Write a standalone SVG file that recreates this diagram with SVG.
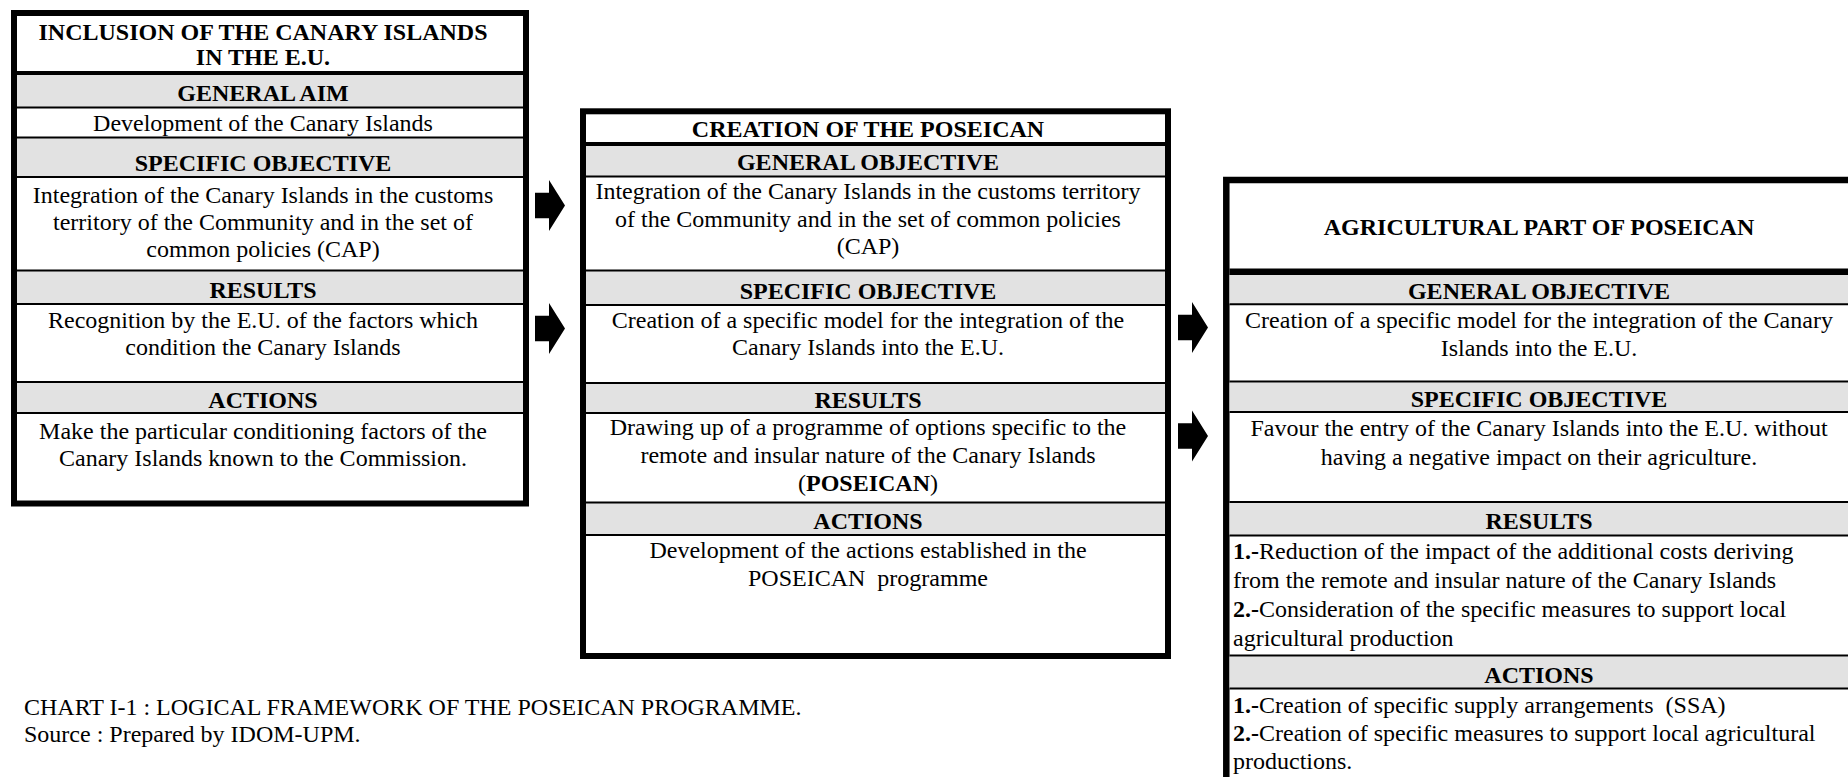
<svg xmlns="http://www.w3.org/2000/svg" width="1848" height="777" viewBox="0 0 1848 777">
<defs>
<style>
.box{fill:#fff;stroke:#000;stroke-width:6}
.band{fill:#e2e2e2}
.sep{stroke:#000;stroke-width:2}
.tl{stroke:#000;stroke-width:4}
text{font-family:"Liberation Serif","Times New Roman",serif;font-size:24px;fill:#000}
.h{font-weight:bold;text-anchor:middle}
.t{text-anchor:middle}
.b{font-weight:bold}
.pre{white-space:pre}
.arrow{fill:#000}
</style>
<path id="arr" d="M0,-12.8 H14 V-25.5 L30,0 L14,25.5 V12.8 H0 Z"/>
</defs>
<rect width="1848" height="777" fill="#fff"/>

<g id="node-inclusion">
<rect class="box" x="14" y="13" width="512" height="490.5"/>
<rect class="band" x="17" y="75" width="506" height="32"/>
<rect class="band" x="17" y="138" width="506" height="39"/>
<rect class="band" x="17" y="271" width="506" height="33"/>
<rect class="band" x="17" y="383" width="506" height="30"/>
<line class="tl" x1="17" y1="73" x2="523" y2="73"/>
<line class="sep" x1="17" y1="107.5" x2="523" y2="107.5"/>
<line class="sep" x1="17" y1="137.5" x2="523" y2="137.5"/>
<line class="sep" x1="17" y1="177" x2="523" y2="177"/>
<line class="sep" x1="17" y1="270.5" x2="523" y2="270.5"/>
<line class="sep" x1="17" y1="304" x2="523" y2="304"/>
<line class="sep" x1="17" y1="382" x2="523" y2="382"/>
<line class="sep" x1="17" y1="413" x2="523" y2="413"/>
<text class="h" x="263" y="40">INCLUSION OF THE CANARY ISLANDS</text>
<text class="h" x="263" y="64.5">IN THE E.U.</text>
<text class="h" x="263" y="100.5">GENERAL AIM</text>
<text class="t" x="263" y="131">Development of the Canary Islands</text>
<text class="h" x="263" y="171">SPECIFIC OBJECTIVE</text>
<text class="t" x="263" y="203">Integration of the Canary Islands in the customs</text>
<text class="t" x="263" y="230">territory of the Community and in the set of</text>
<text class="t" x="263" y="257">common policies (CAP)</text>
<text class="h" x="263" y="298">RESULTS</text>
<text class="t" x="263" y="327.5">Recognition by the E.U. of the factors which</text>
<text class="t" x="263" y="354.5">condition the Canary Islands</text>
<text class="h" x="263" y="407.5">ACTIONS</text>
<text class="t" x="263" y="439">Make the particular conditioning factors of the</text>
<text class="t" x="263" y="466">Canary Islands known to the Commission.</text>
</g>

<g id="node-creation">
<rect class="box" x="583" y="111.3" width="585" height="544.7"/>
<rect class="band" x="586" y="146" width="579" height="30"/>
<rect class="band" x="586" y="271" width="579" height="34"/>
<rect class="band" x="586" y="384" width="579" height="29"/>
<rect class="band" x="586" y="503" width="579" height="32"/>
<line class="tl" x1="586" y1="144" x2="1165" y2="144"/>
<line class="sep" x1="586" y1="176.5" x2="1165" y2="176.5"/>
<line class="sep" x1="586" y1="270.5" x2="1165" y2="270.5"/>
<line class="sep" x1="586" y1="305" x2="1165" y2="305"/>
<line class="sep" x1="586" y1="383" x2="1165" y2="383"/>
<line class="sep" x1="586" y1="413" x2="1165" y2="413"/>
<line class="sep" x1="586" y1="502.5" x2="1165" y2="502.5"/>
<line class="sep" x1="586" y1="535" x2="1165" y2="535"/>
<text class="h" x="868" y="137">CREATION OF THE POSEICAN</text>
<text class="h" x="868" y="170">GENERAL OBJECTIVE</text>
<text class="t" x="868" y="199">Integration of the Canary Islands in the customs territory</text>
<text class="t" x="868" y="226.5">of the Community and in the set of common policies</text>
<text class="t" x="868" y="254">(CAP)</text>
<text class="h" x="868" y="298.5">SPECIFIC OBJECTIVE</text>
<text class="t" x="868" y="327.5">Creation of a specific model for the integration of the</text>
<text class="t" x="868" y="354.5">Canary Islands into the E.U.</text>
<text class="h" x="868" y="407.5">RESULTS</text>
<text class="t" x="868" y="435">Drawing up of a programme of options specific to the</text>
<text class="t" x="868" y="462.5">remote and insular nature of the Canary Islands</text>
<text class="t" x="868" y="490.5">(<tspan class="b">POSEICAN</tspan>)</text>
<text class="h" x="868" y="529">ACTIONS</text>
<text class="t" x="868" y="558">Development of the actions established in the</text>
<text class="t pre" x="868" y="585.5">POSEICAN  programme</text>
</g>

<g id="node-agricultural">
<rect class="box" x="1226.3" y="180" width="700" height="700" style="stroke-width:6.5"/>
<rect class="band" x="1229.5" y="275" width="620" height="29"/>
<rect class="band" x="1229.5" y="382.5" width="620" height="29"/>
<rect class="band" x="1229.5" y="503" width="620" height="32"/>
<rect class="band" x="1229.5" y="656.5" width="620" height="32"/>
<line x1="1229.5" y1="271.7" x2="1848" y2="271.7" style="stroke:#000;stroke-width:6.5"/>
<line class="sep" x1="1229.5" y1="304.2" x2="1848" y2="304.2"/>
<line class="sep" x1="1229.5" y1="381.5" x2="1848" y2="381.5"/>
<line class="sep" x1="1229.5" y1="412" x2="1848" y2="412"/>
<line class="sep" x1="1229.5" y1="502" x2="1848" y2="502"/>
<line class="sep" x1="1229.5" y1="535.5" x2="1848" y2="535.5"/>
<line class="sep" x1="1229.5" y1="655.5" x2="1848" y2="655.5"/>
<line class="sep" x1="1229.5" y1="688.5" x2="1848" y2="688.5"/>
<text class="h" x="1539" y="234.5">AGRICULTURAL PART OF POSEICAN</text>
<text class="h" x="1539" y="298.5">GENERAL OBJECTIVE</text>
<text class="t" x="1539" y="328">Creation of a specific model for the integration of the Canary</text>
<text class="t" x="1539" y="355.5">Islands into the E.U.</text>
<text class="h" x="1539" y="407">SPECIFIC OBJECTIVE</text>
<text class="t" x="1539" y="435.5">Favour the entry of the Canary Islands into the E.U. without</text>
<text class="t" x="1539" y="464.5">having a negative impact on their agriculture.</text>
<text class="h" x="1539" y="529">RESULTS</text>
<text x="1233" y="559">
<tspan class="b">1.-</tspan>Reduction of the impact of the additional costs deriving</text>
<text x="1233" y="587.5">from the remote and insular nature of the Canary Islands</text>
<text x="1233" y="617"><tspan class="b">2.-</tspan>Consideration of the specific measures to support local</text>
<text x="1233" y="645.5">agricultural production</text>
<text class="h" x="1539" y="682.5">ACTIONS</text>
<text class="pre" x="1233" y="712.5"><tspan class="b">1.-</tspan>Creation of specific supply arrangements  (SSA)</text>
<text x="1233" y="740.5"><tspan class="b">2.-</tspan>Creation of specific measures to support local agricultural</text>
<text x="1233" y="769">productions.</text>
</g>

<g id="connectors" class="arrow">
<use href="#arr" transform="translate(535,205.5)"/>
<use href="#arr" transform="translate(535,328.5)"/>
<use href="#arr" transform="translate(1178,327.5)"/>
<use href="#arr" transform="translate(1178,436)"/>
</g>

<g id="caption">
<text x="24" y="714.5">CHART I-1 : LOGICAL FRAMEWORK OF THE POSEICAN PROGRAMME.</text>
<text x="24" y="742">Source : Prepared by IDOM-UPM.</text>
</g>
</svg>
